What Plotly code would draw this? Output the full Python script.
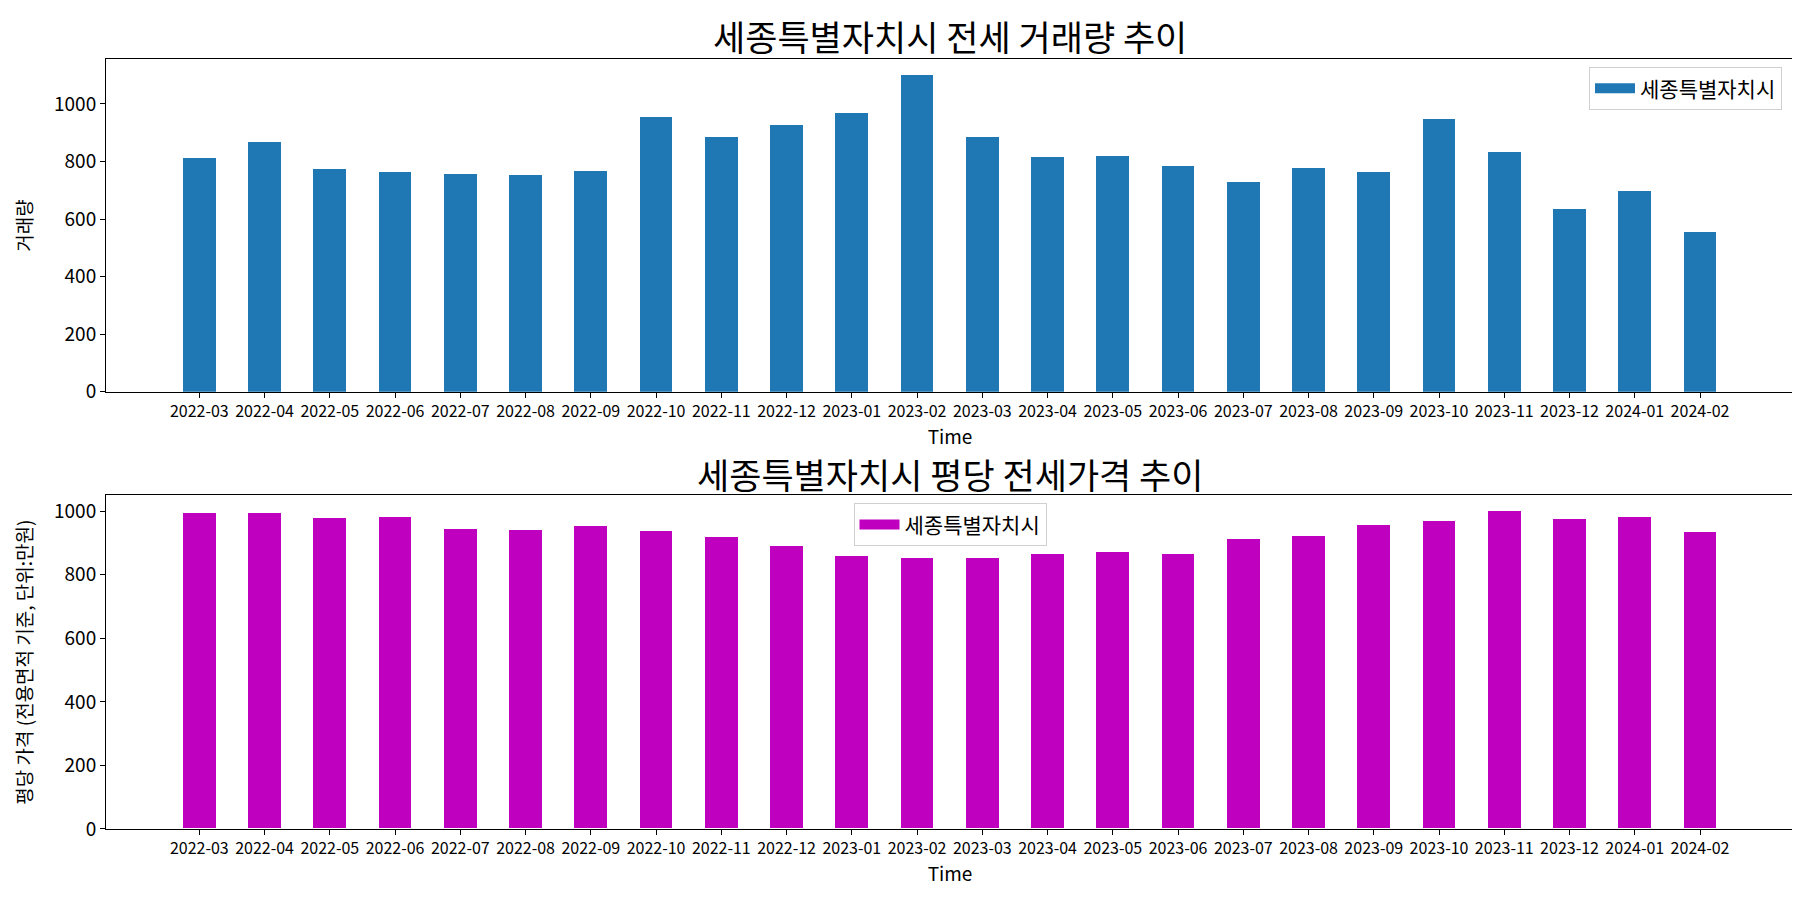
import plotly.graph_objects as go

months = ["2022-03", "2022-04", "2022-05", "2022-06", "2022-07", "2022-08", "2022-09",
          "2022-10", "2022-11", "2022-12", "2023-01", "2023-02", "2023-03", "2023-04",
          "2023-05", "2023-06", "2023-07", "2023-08", "2023-09", "2023-10", "2023-11",
          "2023-12", "2024-01", "2024-02"]
volume = [810, 868, 772, 763, 756, 753, 765, 953, 883, 927, 968, 1100,
          883, 814, 818, 784, 729, 777, 763, 948, 831, 633, 698, 555]
price = [994, 994, 978, 981, 944, 941, 953, 938, 919, 891, 857, 851,
         851, 863, 870, 863, 913, 922, 957, 969, 1000, 975, 981, 935]
region = "세종특별자치시"
title1 = "세종특별자치시 전세 거래량 추이"
title2 = "세종특별자치시 평당 전세가격 추이"
ylabel1 = "거래량"
ylabel2 = "평당 가격 (전용면적 기준, 단위:만원)"
xlabel = "Time"

FONT = "Noto Sans CJK KR"
W, H = 1800, 900
C1, C2 = "#1f77b4", "#bf00bf"
xpos = list(range(len(months)))

fig = go.Figure()
fig.add_trace(go.Bar(x=xpos, y=volume, name=region, marker_color=C1,
                     marker_line_width=0, width=0.5, xaxis="x", yaxis="y", showlegend=False))
fig.add_trace(go.Bar(x=xpos, y=price, name=region, marker_color=C2,
                     marker_line_width=0, width=0.5, xaxis="x2", yaxis="y2", showlegend=False))
# legend entries drawn as wide patches
fig.add_trace(go.Scatter(x=[None], y=[None], mode="lines", name=region,
                         line=dict(color=C1, width=14), xaxis="x", yaxis="y", legend="legend"))
fig.add_trace(go.Scatter(x=[None], y=[None], mode="lines", name=region,
                         line=dict(color=C2, width=14), xaxis="x2", yaxis="y2", legend="legend2"))

xdom = [98 / W, 1786 / W]
top_dom = [1 - 389 / H, 1 - 52 / H]
bot_dom = [1 - 832 / H, 1 - 494 / H]

axis_common = dict(showline=True, linecolor="black", linewidth=1, mirror=True,
                   ticks="outside", ticklen=5, tickcolor="black", showgrid=False,
                   zeroline=False)
xcommon = dict(axis_common, tickmode="array", tickvals=xpos, ticktext=months,
               range=[-1.43, 24.44], tickangle=0,
               tickfont=dict(family=FONT, size=16, color="black"),
               title=dict(text=xlabel, font=dict(family=FONT, size=19, color="black"), standoff=1))
ycommon = dict(axis_common, tickvals=[0, 200, 400, 600, 800, 1000],
               tickfont=dict(family=FONT, size=19, color="black"))

fig.update_layout(
    width=W, height=H, margin=dict(l=0, r=0, t=0, b=0),
    paper_bgcolor="white", plot_bgcolor="white",
    font=dict(family=FONT, color="black"),
    bargap=0,
    xaxis=dict(xcommon, domain=xdom, anchor="y"),
    yaxis=dict(ycommon, domain=top_dom, anchor="x", range=[0, 1155],
               title=dict(text=ylabel1, font=dict(family=FONT, size=19, color="black"), standoff=16)),
    xaxis2=dict(xcommon, domain=xdom, anchor="y2"),
    yaxis2=dict(ycommon, domain=bot_dom, anchor="x2", range=[0, 1050],
                title=dict(text=ylabel2, font=dict(family=FONT, size=19, color="black"), standoff=16)),
    legend=dict(x=1774 / W, y=1 - 60 / H, xanchor="right", yanchor="top",
                bgcolor="rgba(255,255,255,0.8)", bordercolor="#d0d0d0", borderwidth=1,
                itemwidth=40, font=dict(family=FONT, size=21, color="black")),
    legend2=dict(x=942 / W, y=1 - 502 / H, xanchor="center", yanchor="top",
                 bgcolor="rgba(255,255,255,0.8)", bordercolor="#d0d0d0", borderwidth=1,
                 itemwidth=40, font=dict(family=FONT, size=21, color="black")),
    annotations=[
        dict(text=title1, x=942 / W, y=1 - 28 / H, xref="paper", yref="paper",
             xanchor="center", yanchor="middle", showarrow=False,
             font=dict(family=FONT, size=35, color="black")),
        dict(text=title2, x=942 / W, y=1 - 472 / H, xref="paper", yref="paper",
             xanchor="center", yanchor="middle", showarrow=False,
             font=dict(family=FONT, size=35, color="black")),
    ],
)

fig.write_html("out.html")
